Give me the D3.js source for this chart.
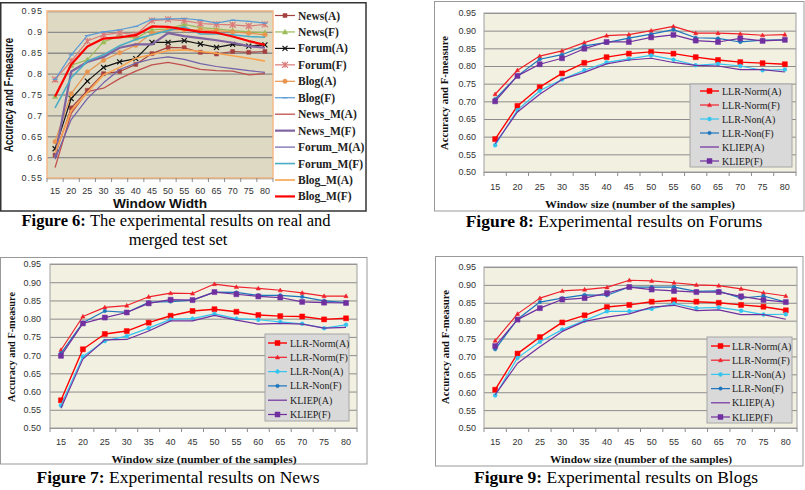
<!DOCTYPE html>
<html><head><meta charset="utf-8">
<script src="https://cdn.jsdelivr.net/npm/d3@7"></script>
<style>body{margin:0;background:#fff;} svg{display:block;}</style>
</head><body>
<svg id="c" width="805" height="490"></svg>
<script>
// ---------------- DATA ----------------
const windowSizes = [15,20,25,30,35,40,45,50,55,60,65,70,75,80];
const fig6YTickLabels = ["0.55","0.6","0.65","0.7","0.75","0.8","0.85","0.9","0.95"];
const yTickLabels = ["0.50","0.55","0.60","0.65","0.70","0.75","0.80","0.85","0.90","0.95"];

// Figure 6 (real and merged test set)
const fig6NewsA   = [0.605,0.718,0.760,0.800,0.805,0.822,0.848,0.863,0.862,0.851,0.847,0.853,0.851,0.853];
const fig6NewsF   = [0.745,0.820,0.833,0.876,0.890,0.885,0.905,0.907,0.918,0.910,0.907,0.903,0.900,0.898];
const fig6ForumA  = [0.620,0.740,0.782,0.815,0.828,0.836,0.875,0.875,0.879,0.871,0.863,0.870,0.866,0.869];
const fig6ForumF  = [0.786,0.830,0.878,0.893,0.898,0.893,0.927,0.930,0.927,0.920,0.918,0.917,0.914,0.918];
const fig6BlogA   = [0.637,0.752,0.804,0.832,0.850,0.868,0.897,0.905,0.905,0.905,0.903,0.900,0.897,0.893];
const fig6BlogF   = [0.786,0.845,0.891,0.900,0.905,0.913,0.930,0.931,0.932,0.928,0.921,0.928,0.925,0.921];
const fig6NewsMA  = [0.575,0.705,0.757,0.765,0.788,0.806,0.821,0.827,0.820,0.810,0.807,0.806,0.797,0.800];
const fig6NewsMF  = [0.600,0.805,0.828,0.840,0.862,0.870,0.870,0.897,0.890,0.885,0.880,0.874,0.866,0.862];
const fig6ForumMA = [0.595,0.690,0.740,0.778,0.810,0.825,0.835,0.840,0.834,0.824,0.817,0.812,0.807,0.803];
const fig6ForumMF = [0.718,0.790,0.830,0.845,0.867,0.882,0.893,0.903,0.912,0.895,0.895,0.893,0.889,0.887];
const fig6BlogMA  = [0.610,0.712,0.755,0.797,0.815,0.837,0.846,0.855,0.857,0.853,0.849,0.843,0.837,0.830];
const fig6BlogMF  = [0.745,0.822,0.865,0.884,0.887,0.892,0.913,0.912,0.906,0.900,0.898,0.889,0.878,0.869];

// Figure 8 (Forums)
const forumsNormA = [0.593,0.687,0.740,0.779,0.809,0.825,0.835,0.840,0.835,0.825,0.817,0.811,0.808,0.805];
const forumsNormF = [0.720,0.788,0.828,0.843,0.866,0.886,0.889,0.900,0.912,0.893,0.893,0.891,0.887,0.889];
const forumsNonA  = [0.576,0.675,0.730,0.762,0.788,0.810,0.820,0.830,0.818,0.802,0.806,0.800,0.788,0.790];
const forumsNonF  = [0.706,0.772,0.819,0.832,0.857,0.866,0.879,0.890,0.903,0.880,0.878,0.868,0.873,0.874];
const forumsKlA   = [0.580,0.670,0.720,0.762,0.782,0.806,0.817,0.822,0.810,0.802,0.800,0.790,0.790,0.783];
const forumsKlF   = [0.700,0.772,0.805,0.822,0.849,0.868,0.868,0.881,0.888,0.872,0.868,0.878,0.871,0.874];

// Figure 7 (News)
const newsNormA = [0.576,0.716,0.758,0.766,0.789,0.808,0.821,0.826,0.819,0.810,0.807,0.806,0.798,0.801];
const newsNormF = [0.714,0.806,0.831,0.836,0.860,0.870,0.869,0.895,0.887,0.883,0.878,0.871,0.862,0.862];
const newsNonA  = [0.562,0.696,0.739,0.752,0.774,0.798,0.800,0.813,0.800,0.797,0.791,0.786,0.774,0.783];
const newsNonF  = [0.705,0.789,0.821,0.817,0.845,0.847,0.851,0.873,0.872,0.864,0.864,0.860,0.849,0.844];
const newsKlA   = [0.554,0.689,0.742,0.743,0.766,0.794,0.794,0.809,0.796,0.785,0.787,0.785,0.774,0.776];
const newsKlF   = [0.698,0.787,0.803,0.817,0.842,0.852,0.851,0.873,0.867,0.861,0.858,0.846,0.844,0.843];

// Figure 9 (Blogs)
const blogsNormA = [0.607,0.708,0.754,0.795,0.815,0.838,0.844,0.853,0.857,0.853,0.850,0.844,0.839,0.829];
const blogsNormF = [0.744,0.819,0.863,0.883,0.887,0.893,0.913,0.911,0.906,0.900,0.898,0.889,0.878,0.869];
const blogsNonA  = [0.591,0.696,0.741,0.775,0.800,0.826,0.826,0.833,0.848,0.835,0.837,0.828,0.817,0.818];
const blogsNonF  = [0.720,0.804,0.852,0.863,0.872,0.871,0.894,0.894,0.894,0.882,0.883,0.863,0.869,0.852];
const blogsKlA   = [0.593,0.681,0.727,0.770,0.798,0.810,0.819,0.838,0.843,0.828,0.830,0.817,0.817,0.804];
const blogsKlF   = [0.729,0.803,0.835,0.859,0.863,0.877,0.894,0.887,0.883,0.880,0.880,0.868,0.858,0.852];

const methodNames = ["LLR-Norm(A)","LLR-Norm(F)","LLR-Non(A)","LLR-Non(F)","KLIEP(A)","KLIEP(F)"];
const fig6Names = ["News(A)","News(F)","Forum(A)","Forum(F)","Blog(A)","Blog(F)","News_M(A)","News_M(F)","Forum_M(A)","Forum_M(F)","Blog_M(A)","Blog_M(F)"];

// ---------------- STYLES ----------------
const SERIF = "'Liberation Serif','Times New Roman',serif";
const SANS = "'Liberation Sans',Arial,sans-serif";

const fig6Styles = [
  {color:"#A4413F", w:1.2, m:"square", s:4},
  {color:"#9BBB59", w:1.2, m:"triangle", s:5},
  {color:"#111111", w:1.2, m:"x", s:5},
  {color:"#DB7A78", w:1.2, m:"asterisk", s:6},
  {color:"#E8944E", w:1.2, m:"circle", s:4.5},
  {color:"#5B9BD5", w:1.2, m:"dash", s:5},
  {color:"#C0504D", w:1.3, m:null},
  {color:"#8064A2", w:2.2, m:null},
  {color:"#7060A8", w:1.2, m:null},
  {color:"#4BACC6", w:1.6, m:null},
  {color:"#F9A24E", w:1.6, m:null},
  {color:"#FF0000", w:2.2, m:null}
];
const methodStyles = [
  {color:"#FF0000", w:1.4, m:"square", s:5},
  {color:"#F0202A", w:1.2, m:"triangle", s:4},
  {color:"#33C4F0", w:1.2, m:"star", s:4.5},
  {color:"#1B75BC", w:1.2, m:"circle", s:3.5},
  {color:"#7030A0", w:1.2, m:null},
  {color:"#7030A0", w:1.2, m:"square", s:5}
];

const svg = d3.select("#c");

function markerPath(type, s) {
  const h = s / 2;
  switch (type) {
    case "square": return `M${-h},${-h}h${s}v${s}h${-s}Z`;
    case "triangle": return `M0,${-h*1.1}L${h*1.05},${h*0.8}L${-h*1.05},${h*0.8}Z`;
    case "x": return `M${-h},${-h}L${h},${h}M${-h},${h}L${h},${-h}`;
    case "asterisk": return `M${-h},${-h}L${h},${h}M${-h},${h}L${h},${-h}M0,${-h}V${h}`;
    case "star": return `M${-h},0H${h}M0,${-h}V${h}M${-h*0.7},${-h*0.7}L${h*0.7},${h*0.7}M${-h*0.7},${h*0.7}L${h*0.7},${-h*0.7}`;
    case "dash": return `M${-h},0H${h}`;
    case "circle": return d3.symbol(d3.symbolCircle, Math.PI * h * h)();
  }
  return "";
}
const filled = new Set(["square","triangle","circle"]);

function drawMarker(g, type, s, color, xx, yy) {
  if (!type) return;
  g.append("path").attr("d", markerPath(type, s))
    .attr("transform", `translate(${xx},${yy})`)
    .attr("fill", filled.has(type) ? color : "none")
    .attr("stroke", color).attr("stroke-width", filled.has(type) ? 0.5 : 1.2);
}

function drawChart(cfg) {
  const g = svg.append("g");
  const [bx0, by0, bx1, by1] = cfg.box;
  g.append("rect").attr("x", bx0).attr("y", by0).attr("width", bx1 - bx0).attr("height", by1 - by0)
    .attr("fill", "#fff").attr("stroke", cfg.boxStroke).attr("stroke-width", cfg.boxWidth);

  const [px0, py0, px1, py1] = cfg.plot;
  const x = d3.scaleBand().domain(windowSizes).range([px0, px1]);
  const y = d3.scaleLinear().domain(cfg.yDomain).range([py1, py0]);
  const cx = v => x(v) + x.bandwidth() / 2;
  const tickVals = cfg.yLabels.map(Number);

  g.append("rect").attr("x", px0).attr("y", py0).attr("width", px1 - px0).attr("height", py1 - py0)
    .attr("fill", cfg.plotFill);

  const grid = g.append("g").attr("transform", `translate(${px0},0)`)
    .call(d3.axisLeft(y).tickValues(tickVals).tickSize(-(px1 - px0)).tickFormat(""));
  grid.select(".domain").remove();
  grid.selectAll("line").attr("stroke", cfg.gridColor).attr("stroke-width", cfg.gridWidth);

  g.append("rect").attr("x", px0).attr("y", py0).attr("width", px1 - px0).attr("height", py1 - py0)
    .attr("fill", "none").attr("stroke", cfg.plotStroke).attr("stroke-width", cfg.plotStrokeWidth);

  // tick marks at category boundaries
  const edges = windowSizes.map(v => x(v)).concat([px1]);
  g.selectAll(null).data(edges).enter().append("line")
    .attr("x1", d => d).attr("x2", d => d).attr("y1", py1).attr("y2", py1 + 4)
    .attr("stroke", cfg.gridColor).attr("stroke-width", 1);

  const ya = g.append("g").attr("transform", `translate(${cfg.yLabelX},0)`)
    .call(d3.axisLeft(y).tickValues(tickVals).tickSize(0).tickPadding(0)
      .tickFormat((d, i) => cfg.yLabels[i]));
  ya.select(".domain").remove();
  ya.selectAll("text").attr("font-family", SANS).attr("font-size", cfg.tickFont).attr("fill", "#333")
    .attr("letter-spacing", cfg.yLetterSpacing || 0);

  const xa = g.append("g").attr("transform", `translate(0,${cfg.xLabelY})`)
    .call(d3.axisBottom(x).tickSize(0).tickPadding(0));
  xa.select(".domain").remove();
  xa.selectAll("text").attr("y", 0).attr("dy", "0.35em").attr("font-family", SANS)
    .attr("font-size", cfg.tickFont).attr("fill", "#333");

  // series
  const line = d3.line().x((d, i) => cx(windowSizes[i])).y(d => y(d));
  cfg.series.forEach((s, k) => {
    const st = cfg.styles[k];
    g.append("path").attr("d", line(s)).attr("fill", "none").attr("stroke", st.color)
      .attr("stroke-width", st.w).attr("stroke-linejoin", "round");
    if (st.m) s.forEach((v, i) => drawMarker(g, st.m, st.s, st.color, cx(windowSizes[i]), y(v)));
  });

  // legend
  const lg = cfg.legend;
  if (lg.box) {
    g.append("rect").attr("x", lg.box[0]).attr("y", lg.box[1]).attr("width", lg.box[2] - lg.box[0])
      .attr("height", lg.box[3] - lg.box[1]).attr("fill", "#D9D9D9").attr("stroke", "#A6A6A6");
  }
  cfg.names.forEach((n, k) => {
    const st = cfg.styles[k];
    const yy = lg.y0 + k * lg.dy;
    g.append("line").attr("x1", lg.x0).attr("x2", lg.x1).attr("y1", yy).attr("y2", yy)
      .attr("stroke", st.color).attr("stroke-width", st.w);
    drawMarker(g, st.m, st.s, st.color, (lg.x0 + lg.x1) / 2, yy);
    g.append("text").attr("x", lg.tx).attr("y", yy).attr("dy", "0.35em").text(n)
      .attr("font-family", SERIF).attr("font-size", lg.font).attr("font-weight", lg.weight || "normal")
      .attr("fill", "#222");
  });

  // titles
  const xt = cfg.xTitle;
  g.append("text").attr("x", xt.x).attr("y", xt.y).attr("dy", "0.35em").attr("text-anchor", "middle")
    .attr("font-family", xt.family).attr("font-weight", "bold").attr("font-size", xt.size)
    .attr("fill", "#111").attr("textLength", xt.len).attr("lengthAdjust", "spacingAndGlyphs").text(xt.text);
  const yt = cfg.yTitle;
  g.append("text").attr("transform", `translate(${yt.x},${yt.y}) rotate(-90)`).attr("dy", "0.35em")
    .attr("text-anchor", "middle").attr("font-family", yt.family).attr("font-weight", "bold")
    .attr("font-size", yt.size).attr("fill", "#111").attr("textLength", yt.len)
    .attr("lengthAdjust", "spacingAndGlyphs").text(yt.text);
}

const methodTitleX = "Window size (number of the samples)";
const yTitleText = "Accuracy and F-measure";

// Figure 6
drawChart({
  box: [0.75, 2.75, 366, 211], boxStroke: "#333", boxWidth: 1.5,
  plot: [47, 11, 273, 178], yDomain: [0.55, 0.95], yLabels: fig6YTickLabels,
  plotFill: "#DDD9C3", plotStroke: "#F5B887", plotStrokeWidth: 1.5,
  gridColor: "#8C8C8C", gridWidth: 1.3, tickFont: 9, yLetterSpacing: 1,
  yLabelX: 43, xLabelY: 191,
  series: [fig6NewsA, fig6NewsF, fig6ForumA, fig6ForumF, fig6BlogA, fig6BlogF, fig6NewsMA, fig6NewsMF, fig6ForumMA, fig6ForumMF, fig6BlogMA, fig6BlogMF],
  styles: fig6Styles, names: fig6Names,
  legend: {x0: 275, x1: 295, tx: 298, y0: 15.5, dy: 16.45, font: 11.5, weight: "bold"},
  xTitle: {text: "Window Width", x: 160, y: 203, size: 13, len: 94, family: SANS},
  yTitle: {text: yTitleText, x: 9, y: 95, size: 12.5, len: 114, family: SANS}
});

// Figure 8 (Forums)
drawChart({
  box: [434.5, 1.5, 804, 211], boxStroke: "#999", boxWidth: 1,
  plot: [484, 13, 796, 172], yDomain: [0.50, 0.95], yLabels: yTickLabels,
  plotFill: "#F2F0E0", plotStroke: "#A0A0A0", plotStrokeWidth: 1,
  gridColor: "#8C8C8C", gridWidth: 1, tickFont: 9,
  yLabelX: 476, xLabelY: 187,
  series: [forumsNormA, forumsNormF, forumsNonA, forumsNonF, forumsKlA, forumsKlF],
  styles: methodStyles, names: methodNames,
  legend: {box: [690, 84, 792, 167], x0: 700, x1: 719, tx: 722, y0: 91, dy: 14, font: 10},
  xTitle: {text: methodTitleX, x: 640, y: 204, size: 11, len: 190, family: SERIF},
  yTitle: {text: yTitleText, x: 444, y: 93, size: 11, len: 114, family: SERIF}
});

// Figure 7 (News)
drawChart({
  box: [0.5, 257.5, 367, 464], boxStroke: "#999", boxWidth: 1,
  plot: [50, 264, 357, 428], yDomain: [0.50, 0.95], yLabels: yTickLabels,
  plotFill: "#F2F0E0", plotStroke: "#A0A0A0", plotStrokeWidth: 1,
  gridColor: "#8C8C8C", gridWidth: 1, tickFont: 9,
  yLabelX: 41, xLabelY: 442,
  series: [newsNormA, newsNormF, newsNonA, newsNonF, newsKlA, newsKlF],
  styles: methodStyles, names: methodNames,
  legend: {box: [265, 334, 349, 421], x0: 268, x1: 287, tx: 290, y0: 343, dy: 14.3, font: 10},
  xTitle: {text: methodTitleX, x: 204, y: 459, size: 11, len: 185, family: SERIF},
  yTitle: {text: yTitleText, x: 11, y: 347, size: 11, len: 110, family: SERIF}
});

// Figure 9 (Blogs)
drawChart({
  box: [435.5, 256.5, 803, 466], boxStroke: "#999", boxWidth: 1,
  plot: [484, 267, 797, 428], yDomain: [0.50, 0.95], yLabels: yTickLabels,
  plotFill: "#F2F0E0", plotStroke: "#A0A0A0", plotStrokeWidth: 1,
  gridColor: "#8C8C8C", gridWidth: 1, tickFont: 9,
  yLabelX: 476, xLabelY: 442,
  series: [blogsNormA, blogsNormF, blogsNonA, blogsNonF, blogsKlA, blogsKlF],
  styles: methodStyles, names: methodNames,
  legend: {box: [707, 337, 792, 423], x0: 711, x1: 730, tx: 732, y0: 346, dy: 14.2, font: 10},
  xTitle: {text: methodTitleX, x: 641, y: 459, size: 11, len: 182, family: SERIF},
  yTitle: {text: yTitleText, x: 445, y: 347, size: 11, len: 114, family: SERIF}
});

// Captions
function caption(x, yy, bold, rest, size) {
  const t = svg.append("text").attr("x", x).attr("y", yy).attr("text-anchor", "middle")
    .attr("font-family", SERIF).attr("font-size", size).attr("fill", "#000");
  if (bold) t.append("tspan").attr("font-weight", "bold").text(bold + " ");
  t.append("tspan").text(rest);
}
caption(176, 226, "Figure 6:", "The experimental results on real and", 16.5);
caption(178, 245, null, "merged test set", 16.5);
caption(614, 227, "Figure 8:", "Experimental results on Forums", 17.5);
caption(178, 483, "Figure 7:", "Experimental results on News", 17.5);
caption(616, 483, "Figure 9:", "Experimental results on Blogs", 17.5);
</script>
</body></html>
